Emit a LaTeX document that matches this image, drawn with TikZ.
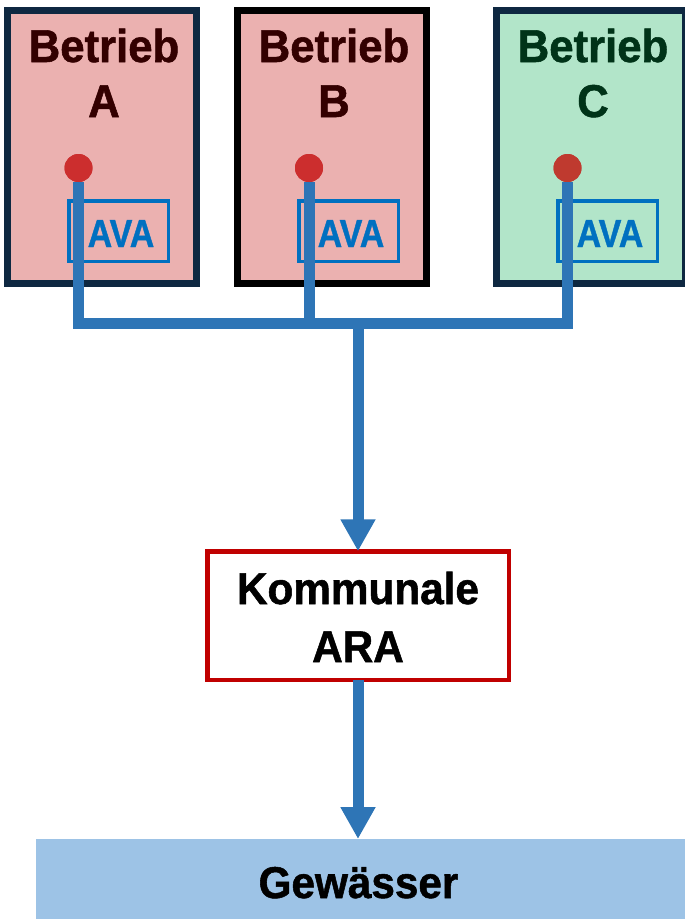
\documentclass[tikz,border=0pt]{standalone}
\usepackage{fontspec}
\setmainfont{Liberation Sans}
\newfontfamily\labfont[FakeStretch=0.95,FakeBold=1.2]{Liberation Sans}
\newfontfamily\avafont[FakeStretch=0.87,FakeBold=1]{Liberation Sans}
\usetikzlibrary{arrows.meta}
\definecolor{pinkfill}{HTML}{EBB1B0}
\definecolor{greenfill}{HTML}{B2E5C9}
\definecolor{navy}{HTML}{0E2841}
\definecolor{darkredtxt}{HTML}{330000}
\definecolor{darkgreentxt}{HTML}{003318}
\definecolor{dotred}{HTML}{CC2E2E}
\definecolor{dotredC}{HTML}{BF3A2F}
\definecolor{pipeblue}{HTML}{2E75B6}
\definecolor{avablue}{HTML}{0070C0}
\definecolor{arared}{HTML}{C00000}
\definecolor{gewfill}{HTML}{9DC3E6}
\tikzset{
  betbox/.style={rectangle, line width=7pt, minimum width=189pt, minimum height=273pt, inner sep=0pt, outer sep=0pt},
  avabox/.style={rectangle, draw=avablue, line width=3.5pt, minimum width=99.5pt, minimum height=60.5pt, inner sep=0pt, outer sep=0pt},
  avatext/.style={anchor=base, inner sep=0pt, text=avablue, font=\avafont\bfseries\fontsize{39}{39}\selectfont},
  bettext/.style={anchor=base, inner sep=0pt, font=\labfont\bfseries\fontsize{46}{46}\selectfont},
  bigtext/.style={anchor=base, inner sep=0pt, text=black, font=\labfont\bfseries\fontsize{44.5}{44.5}\selectfont},
  dotnode/.style={circle, minimum size=28pt, inner sep=0pt, outer sep=0pt},
  pipe/.style={draw=pipeblue, line width=11pt, line join=miter},
  flowarrow/.style={-{Triangle[width=33pt,length=32pt]}}
}
\begin{document}
\begin{tikzpicture}[x=1pt,y=-1pt]
\useasboundingbox (0,0) rectangle (685,919);

% Betriebe
\node[betbox, draw=navy, fill=pinkfill] (boxA) at (102,147) {};
\node[betbox, draw=black, fill=pinkfill] (boxB) at (332,147) {};
\node[betbox, draw=navy, fill=greenfill] (boxC) at (591,147) {};

\node[bettext, text=darkredtxt] (tA1) at (104,62) {Betrieb};
\node[bettext, text=darkredtxt] (tA2) at (104,117) {A};
\node[bettext, text=darkredtxt] (tB1) at (334,62) {Betrieb};
\node[bettext, text=darkredtxt] (tB2) at (334,117) {B};
\node[bettext, text=darkgreentxt] (tC1) at (593,62) {Betrieb};
\node[bettext, text=darkgreentxt] (tC2) at (593,117) {C};

% AVA
\node[avabox] (avaA) at (118.5,231) {};
\node[avabox] (avaB) at (348.5,231) {};
\node[avabox] (avaC) at (607.5,231) {};
\node[avatext] (avaAt) at (121,247) {AVA};
\node[avatext] (avaBt) at (351,247) {AVA};
\node[avatext] (avaCt) at (610,247) {AVA};

% dots
\node[dotnode, fill=dotred] (dotA) at (78.5,168) {};
\node[dotnode, fill=dotred] (dotB) at (309,168) {};
\node[dotnode, fill=dotredC] (dotC) at (567.5,168) {};

% ARA and Gewaesser
\node[rectangle, draw=arared, line width=4.5pt, fill=white, minimum width=301.5pt, minimum height=128.5pt, inner sep=0pt, outer sep=0pt] (ara) at (358,615.5) {};
\node[bigtext] (araT1) at (358,604) {Kommunale};
\node[bigtext] (araT2) at (358,662) {ARA};

\node[rectangle, fill=gewfill, minimum width=649pt, minimum height=80pt, inner sep=0pt, outer sep=0pt] (gew) at (360.5,879) {};
\node[bigtext] (gewT) at (358.5,898) {Gew\"asser};

% pipes
\coordinate (jA) at (dotA.south |- 0,323.5);
\coordinate (jB) at (dotB.south |- 0,323.5);
\coordinate (jC) at (dotC.south |- 0,323.5);
\coordinate (jM) at (358,323.5);
\draw[pipe] (dotA.south) -- (jA) -- (jC) -- (dotC.south);
\draw[pipe] (dotB.south) -- (jB);
\draw[pipe, flowarrow] (jM) -- (ara.north);
\draw[pipe, flowarrow] (ara.south) -- (ara.south |- gew.north);

% dots on top
\node[dotnode, fill=dotred] at (dotA) {};
\node[dotnode, fill=dotred] at (dotB) {};
\node[dotnode, fill=dotredC] at (dotC) {};
\end{tikzpicture}
\end{document}
